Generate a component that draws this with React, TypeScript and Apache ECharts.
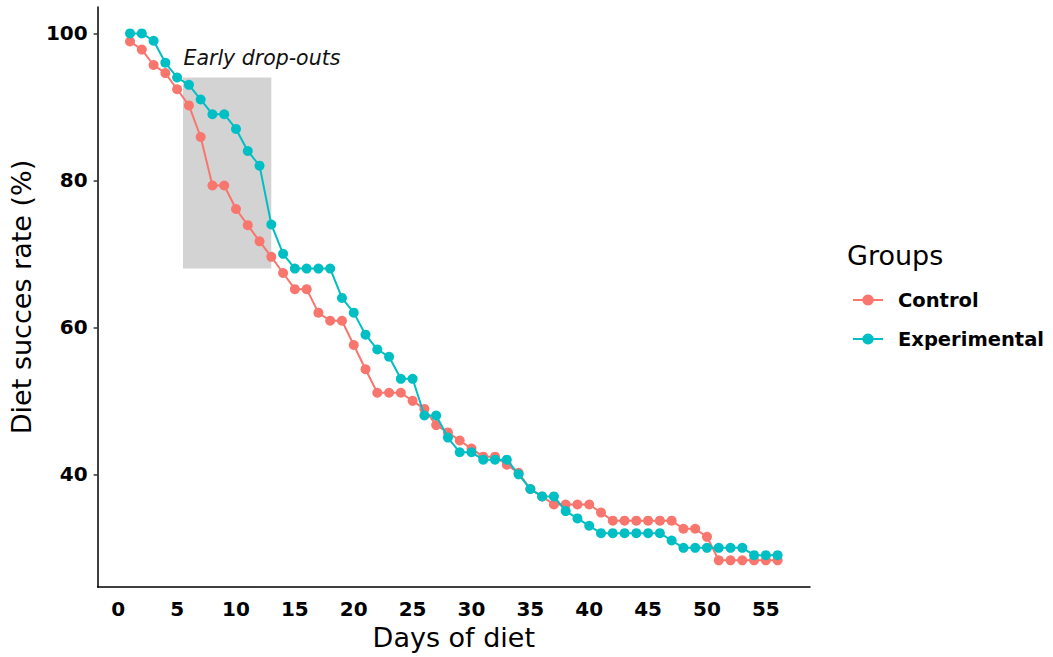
import React, { useEffect, useRef } from "react";
import * as echarts from "echarts";

const days: number[] = Array.from({ length: 56 }, (_, i) => i + 1);

const controlValues: number[] = [
  98.9, 97.8, 95.7, 94.6, 92.4, 90.2, 85.9, 79.3, 79.3, 76.1,
  73.9, 71.7, 69.6, 67.4, 65.2, 65.2, 62.0, 60.9, 60.9, 57.6,
  54.3, 51.1, 51.1, 51.1, 50.0, 48.9, 46.7, 45.7, 44.6, 43.5,
  42.4, 42.4, 41.3, 40.2, 38.0, 37.0, 35.9, 35.9, 35.9, 35.9,
  34.8, 33.7, 33.7, 33.7, 33.7, 33.7, 33.7, 32.6, 32.6, 31.5,
  28.3, 28.3, 28.3, 28.3, 28.3, 28.3,
];

const experimentalValues: number[] = [
  100, 100, 99, 96, 94, 93, 91, 89, 89, 87,
  84, 82, 74, 70, 68, 68, 68, 68, 64, 62,
  59, 57, 56, 53, 53, 48, 48, 45, 43, 43,
  42, 42, 42, 40, 38, 37, 37, 35, 34, 33,
  32, 32, 32, 32, 32, 32, 31, 30, 30, 30,
  30, 30, 30, 29, 29, 29,
];

const xTicks: number[] = [0, 5, 10, 15, 20, 25, 30, 35, 40, 45, 50, 55];
const yTicks: number[] = [40, 60, 80, 100];

const groupNames: string[] = ["Control", "Experimental"];
const groupColors: string[] = ["#F8766D", "#00BFC4"];

const shadeX: number[] = [5.5, 13];
const shadeY: number[] = [68, 94];
const annotationText = "Early drop-outs";
const annotationPos: number[] = [12.2, 96.7];

const FONT = "DejaVu Sans";

export default function App() {
  const ref = useRef<HTMLDivElement>(null);
  useEffect(() => {
    if (!ref.current) return;
    const chart = echarts.init(ref.current, null, { renderer: "svg" });
    const seriesData = [controlValues, experimentalValues];
    chart.setOption({
      animation: false,
      backgroundColor: "#ffffff",
      title: {
        text: "Groups",
        left: 847,
        top: 242,
        textStyle: { fontFamily: FONT, fontSize: 27, fontWeight: "normal", color: "#000" },
        padding: 0,
      },
      legend: {
        orient: "vertical",
        left: 852,
        top: 290,
        itemWidth: 30,
        itemHeight: 14,
        itemGap: 19,
        padding: 0,
        data: groupNames,
        textStyle: {
          fontFamily: FONT,
          fontSize: 19.5,
          fontWeight: "bold",
          color: "#000",
          padding: [0, 0, 0, 10],
        },
      },
      grid: { left: 97, right: 243, top: 7, bottom: 70, containLabel: false },
      xAxis: {
        type: "value",
        min: -1.75,
        max: 58.75,
        name: "Days of diet",
        nameLocation: "middle",
        nameGap: 36,
        nameTextStyle: { fontFamily: FONT, fontSize: 27, color: "#000" },
        axisLine: { show: true, onZero: false, lineStyle: { color: "#000", width: 1.5 } },
        axisTick: { show: false, customValues: xTicks },
        axisLabel: {
          customValues: xTicks,
          fontFamily: FONT,
          fontSize: 20,
          fontWeight: "bold",
          color: "#000",
          margin: 12,
        },
        splitLine: { show: false },
      },
      yAxis: {
        type: "value",
        min: 24.67,
        max: 103.59,
        name: "Diet succes rate (%)",
        nameLocation: "middle",
        nameGap: 52,
        nameTextStyle: { fontFamily: FONT, fontSize: 27, color: "#000" },
        axisLine: { show: true, onZero: false, lineStyle: { color: "#000", width: 1.5 } },
        axisTick: { show: true, customValues: yTicks, length: 4, lineStyle: { color: "#333", width: 1.5 } },
        axisLabel: {
          customValues: yTicks,
          fontFamily: FONT,
          fontSize: 20,
          fontWeight: "bold",
          color: "#000",
          margin: 10,
        },
        splitLine: { show: false },
      },
      series: [
        {
          type: "line",
          name: "shade",
          data: [],
          z: 1,
          silent: true,
          markArea: {
            silent: true,
            itemStyle: { color: "#d3d3d3", opacity: 1 },
            data: [[{ coord: [shadeX[0], shadeY[1]] }, { coord: [shadeX[1], shadeY[0]] }]],
          },
          markPoint: {
            silent: true,
            symbol: "circle",
            symbolSize: 0,
            itemStyle: { color: "transparent" },
            label: {
              show: true,
              position: "inside",
              formatter: annotationText,
              fontFamily: FONT,
              fontSize: 20.5,
              fontStyle: "italic",
              color: "#111",
            },
            data: [{ coord: annotationPos }],
          },
        },
        ...groupNames.map((name, i) => ({
          type: "line",
          name,
          z: 3 + i,
          data: days.map((d, j) => [d, seriesData[i][j]]),
          symbol: "circle",
          symbolSize: 10,
          showSymbol: true,
          lineStyle: { color: groupColors[i], width: 2 },
          itemStyle: { color: groupColors[i] },
          emphasis: { disabled: true },
        })),
      ],
    });
    return () => chart.dispose();
  }, []);
  return (
    <div
      ref={ref}
      style={{ position: "fixed", left: 0, top: 0, width: 1053, height: 657, background: "#fff" }}
    />
  );
}
